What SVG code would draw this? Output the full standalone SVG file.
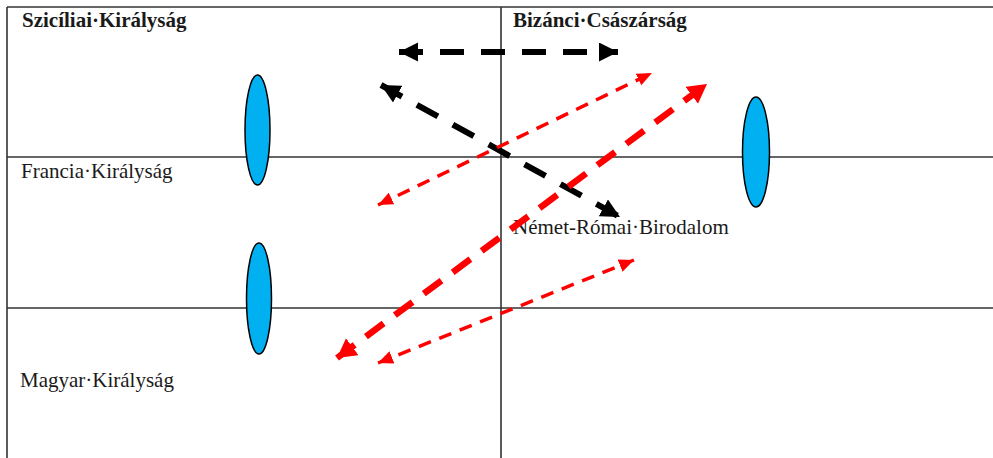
<svg xmlns="http://www.w3.org/2000/svg" width="993" height="458" viewBox="0 0 993 458">
<style>
.grid{stroke:#333;stroke-width:1.6;fill:none}
.node ellipse{fill:#00B0F0;stroke:#000;stroke-width:1.5}
.lbl{font-family:"Liberation Serif","Times New Roman",serif;font-size:21px;fill:#1a1a1a}
.b{font-weight:bold}
.blk{stroke:#000;stroke-width:6;fill:none;stroke-dasharray:24 17}
.rthin{stroke:#ff0000;stroke-width:3.5;fill:none;stroke-dasharray:13 9}
.rthick{stroke:#ff0000;stroke-width:6.5;fill:none;stroke-dasharray:22 14}
</style>
<defs>
<marker id="hb" markerUnits="userSpaceOnUse" markerWidth="20" markerHeight="20" refX="19" refY="9.5" orient="auto-start-reverse"><path d="M0,0 L19,9.5 L0,19 z" fill="#000"/></marker>
<marker id="hrt" markerUnits="userSpaceOnUse" markerWidth="16" markerHeight="14" refX="15" refY="6.5" orient="auto-start-reverse"><path d="M0,0 L15,6.5 L0,13 z" fill="#ff0000"/></marker>
<marker id="hrk" markerUnits="userSpaceOnUse" markerWidth="20" markerHeight="22" refX="19" refY="10.5" orient="auto-start-reverse"><path d="M0,0 L19,10.5 L0,21 z" fill="#ff0000"/></marker>
</defs>
<rect width="993" height="458" fill="#fff"/>
<g id="grid">
<line class="grid" x1="7" y1="7" x2="993" y2="7"/>
<line class="grid" x1="7" y1="7" x2="7" y2="458"/>
<line class="grid" x1="501" y1="7" x2="501" y2="458"/>
<line class="grid" x1="7" y1="157" x2="993" y2="157"/>
<line class="grid" x1="7" y1="308" x2="993" y2="308"/>
</g>
<g id="sicily"><text class="lbl b" x="22" y="27">Szicíliai·Királyság</text></g>
<g id="byzantium"><text class="lbl b" x="513" y="27">Bizánci·Császárság</text></g>
<g id="france"><text class="lbl" x="21" y="178">Francia·Királyság</text></g>
<g id="hre"><text class="lbl" x="513" y="234">Német-Római·Birodalom</text></g>
<g id="hungary"><text class="lbl" x="20" y="387">Magyar·Királyság</text></g>
<g id="ellipse-left-top" class="node"><ellipse cx="257.5" cy="130" rx="12.5" ry="55"/></g>
<g id="ellipse-left-bottom" class="node"><ellipse cx="259" cy="298.5" rx="12.5" ry="55.5"/></g>
<g id="ellipse-right" class="node"><ellipse cx="756" cy="152" rx="13.5" ry="55"/></g>
<g id="connectors">
<line class="blk" x1="399" y1="52" x2="618" y2="52" marker-start="url(#hb)" marker-end="url(#hb)"/>
<line class="blk" x1="381" y1="85" x2="620" y2="217" marker-start="url(#hb)" marker-end="url(#hb)"/>
<line class="rthin" x1="378" y1="205" x2="652" y2="73" marker-start="url(#hrt)" marker-end="url(#hrt)"/>
<line class="rthick" x1="337" y1="358" x2="707" y2="84" marker-start="url(#hrk)" marker-end="url(#hrk)"/>
<line class="rthin" x1="378" y1="363" x2="634" y2="260" marker-start="url(#hrt)" marker-end="url(#hrt)"/>
</g>
</svg>
